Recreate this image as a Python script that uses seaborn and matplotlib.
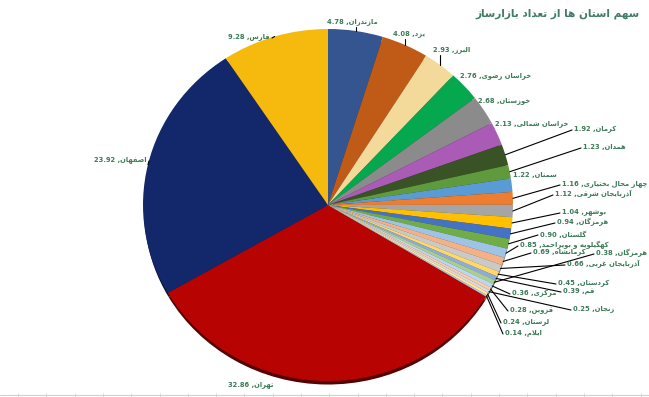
import matplotlib
matplotlib.use("Agg")
import matplotlib.pyplot as plt
import matplotlib.colors as mcolors
import seaborn as sns
import numpy as np

#### data (sorted the same way as the source sheet)
provinces = ["تهران", "اصفهان", "فارس", "مازندران", "یزد", "البرز",
             "خراسان رضوی", "خوزستان", "خراسان شمالی", "کرمان", "همدان",
             "سمنان", "چهار محال بختیاری", "آذربایجان شرقی", "بوشهر",
             "هرمزگان", "گلستان", "کهگیلویه و بویراحمد", "کرمانشاه",
             "آذربایجان غربی", "کردستان", "قم", "هرمزگان", "مرکزی",
             "قزوین", "زنجان", "لرستان", "ایلام"]
shares = [32.86, 23.92, 9.28, 4.78, 4.08, 2.93,
          2.76, 2.68, 2.13, 1.92, 1.23,
          1.22, 1.16, 1.12, 1.04,
          0.94, 0.90, 0.85, 0.69,
          0.66, 0.45, 0.39, 0.38, 0.36,
          0.28, 0.25, 0.24, 0.14]
title = "سهم استان ها از تعداد بازارساز"

slice_colors = ["#b80303", "#13286a", "#f6b90e", "#34558f", "#c05a17", "#f3d99a",
                "#06a84f", "#8b8b8b", "#aa5bb5", "#3a5326", "#5f9a3d",
                "#5b9bd5", "#ed7d31", "#a5a5a5", "#ffc000",
                "#4472c4", "#70ad47", "#9dc3e6", "#f4b183",
                "#c9c9c9", "#ffd966", "#8faadc", "#a9d18e", "#bdd7ee",
                "#f8cbad", "#dbdbdb", "#ffe699", "#b4c7e7"]

# label placement (pixel coords of the 649x397 canvas) and leader style
label_pos = [(228, 385, None), (147, 160, "left"), (270, 37, "left"),
             (327, 22, "up"), (393, 34, "up"), (433, 50, "up"),
             (460, 76, None), (478, 101, None), (495, 124, None),
             (574, 129, "side"), (583, 147, "side"), (513, 175, None),
             (562, 184, "side"), (555, 194, "side"), (562, 212, "side"),
             (557, 222, "side"), (540, 234, "side"), (520, 245, "side"),
             (533, 252, "side"), (567, 264, "side"), (558, 283, "side"),
             (563, 291, "side"), (596, 253, "side"), (512, 293, "side"),
             (510, 310, "side"), (573, 309, "side"), (503, 322, "side"),
             (505, 333, "side")]

#### minimal persian shaping (matplotlib has no bidi / joining)
FORMS = {
    'ا': ('\uFE8D', '\uFE8E', None, None),
    'آ': ('\uFE81', '\uFE82', None, None),
    'ب': ('\uFE8F', '\uFE90', '\uFE91', '\uFE92'),
    'ت': ('\uFE95', '\uFE96', '\uFE97', '\uFE98'),
    'ج': ('\uFE9D', '\uFE9E', '\uFE9F', '\uFEA0'),
    'ح': ('\uFEA1', '\uFEA2', '\uFEA3', '\uFEA4'),
    'خ': ('\uFEA5', '\uFEA6', '\uFEA7', '\uFEA8'),
    'د': ('\uFEA9', '\uFEAA', None, None),
    'ذ': ('\uFEAB', '\uFEAC', None, None),
    'ر': ('\uFEAD', '\uFEAE', None, None),
    'ز': ('\uFEAF', '\uFEB0', None, None),
    'س': ('\uFEB1', '\uFEB2', '\uFEB3', '\uFEB4'),
    'ش': ('\uFEB5', '\uFEB6', '\uFEB7', '\uFEB8'),
    'ص': ('\uFEB9', '\uFEBA', '\uFEBB', '\uFEBC'),
    'ض': ('\uFEBD', '\uFEBE', '\uFEBF', '\uFEC0'),
    'ع': ('\uFEC9', '\uFECA', '\uFECB', '\uFECC'),
    'غ': ('\uFECD', '\uFECE', '\uFECF', '\uFED0'),
    'ف': ('\uFED1', '\uFED2', '\uFED3', '\uFED4'),
    'ق': ('\uFED5', '\uFED6', '\uFED7', '\uFED8'),
    'ل': ('\uFEDD', '\uFEDE', '\uFEDF', '\uFEE0'),
    'م': ('\uFEE1', '\uFEE2', '\uFEE3', '\uFEE4'),
    'ن': ('\uFEE5', '\uFEE6', '\uFEE7', '\uFEE8'),
    'ه': ('\uFEE9', '\uFEEA', '\uFEEB', '\uFEEC'),
    'و': ('\uFEED', '\uFEEE', None, None),
    'چ': ('\uFB7A', '\uFB7B', '\uFB7C', '\uFB7D'),
    'ک': ('\uFB8E', '\uFB8F', '\uFB90', '\uFB91'),
    'گ': ('\uFB92', '\uFB93', '\uFB94', '\uFB95'),
    'ی': ('\uFBFC', '\uFBFD', '\uFBFE', '\uFBFF'),
    'لا': ('\uFEFB', '\uFEFC', None, None),
    'لآ': ('\uFEF5', '\uFEF6', None, None),
}


def fa(text):
    toks = []
    i = 0
    while i < len(text):
        if text[i] == 'ل' and i + 1 < len(text) and text[i + 1] in 'اآ':
            toks.append(text[i:i + 2])
            i += 2
        else:
            toks.append(text[i])
            i += 1
    out = []
    for k, t in enumerate(toks):
        if t not in FORMS:
            out.append(t)
            continue
        prev = toks[k - 1] if k > 0 else None
        nxt = toks[k + 1] if k + 1 < len(toks) else None
        jp = prev in FORMS and FORMS[prev][2] is not None
        jn = FORMS[t][2] is not None and nxt in FORMS
        iso, fin, ini, med = FORMS[t]
        if jp and jn:
            out.append(med)
        elif jp:
            out.append(fin)
        elif jn:
            out.append(ini)
        else:
            out.append(iso)
    return "".join(reversed(out))


sns.set_theme(style="white")
plt.rcParams['font.family'] = ['DejaVu Sans']

W, H = 649, 397
fig = plt.figure(figsize=(W / 100, H / 100), dpi=100)

# pie geometry (slightly flattened like the 3d excel pie)
cx, cy, rx, ry = 328, 205, 185, 176
pax = fig.add_axes([(cx - rx) / W, (H - cy - ry) / H, 2 * rx / W, 2 * ry / H])

start = 90 + 360 * sum(shares[:3]) / sum(shares)
shadow = [tuple(np.array(mcolors.to_rgb(c)) * 0.45) for c in slice_colors]
pax.pie(shares, colors=shadow, startangle=start, counterclock=False,
        center=(0, -0.025), radius=0.995, wedgeprops=dict(linewidth=0))
wedges, _ = pax.pie(shares, colors=sns.color_palette(slice_colors),
                    startangle=start, counterclock=False, radius=1,
                    wedgeprops=dict(linewidth=0))
pax.set_aspect('auto')
pax.set_xlim(-1, 1)
pax.set_ylim(-1.0, 1.0)
pax.axis('off')

# overlay in pixel coords for labels
ax = fig.add_axes([0, 0, 1, 1])
ax.set_xlim(0, W)
ax.set_ylim(H, 0)
ax.axis('off')
ax.patch.set_alpha(0)

lab_color = "#3b7a57"
for w, name, v, (lx, ly, kind) in zip(wedges, provinces, shares, label_pos):
    mid = np.deg2rad((w.theta1 + w.theta2) / 2)
    ex = cx + rx * np.cos(mid)
    ey = cy - ry * np.sin(mid)
    txt = f"{v:.2f} ," + fa(name)
    ha = "right" if kind == "left" else "left"
    ax.text(lx, ly, txt, fontsize=4.9, fontweight="bold", color=lab_color,
            ha=ha, va="center")
    if kind == "side":
        ax.plot([ex, lx - 2], [ey, ly + 1], color="black", lw=0.8)
    elif kind == "up":
        ax.plot([ex, ex], [ey, ly + 5], color="black", lw=0.8)
    elif kind == "left":
        ax.plot([ex, lx + 2], [ey, ly + 1], color="black", lw=0.8)

ax.text(640, 14, fa(title), fontsize=7.6, fontweight="bold",
        color="#3f7d62", ha="right", va="center")

# sheet gridline peeking under the chart
ax.axhline(395, color="#d0d0d0", lw=0.8)
ax.vlines(np.arange(18, W, 28.3), 393, 397, color="#d0d0d0", lw=0.6)

plt.savefig("out.png", dpi=100)
